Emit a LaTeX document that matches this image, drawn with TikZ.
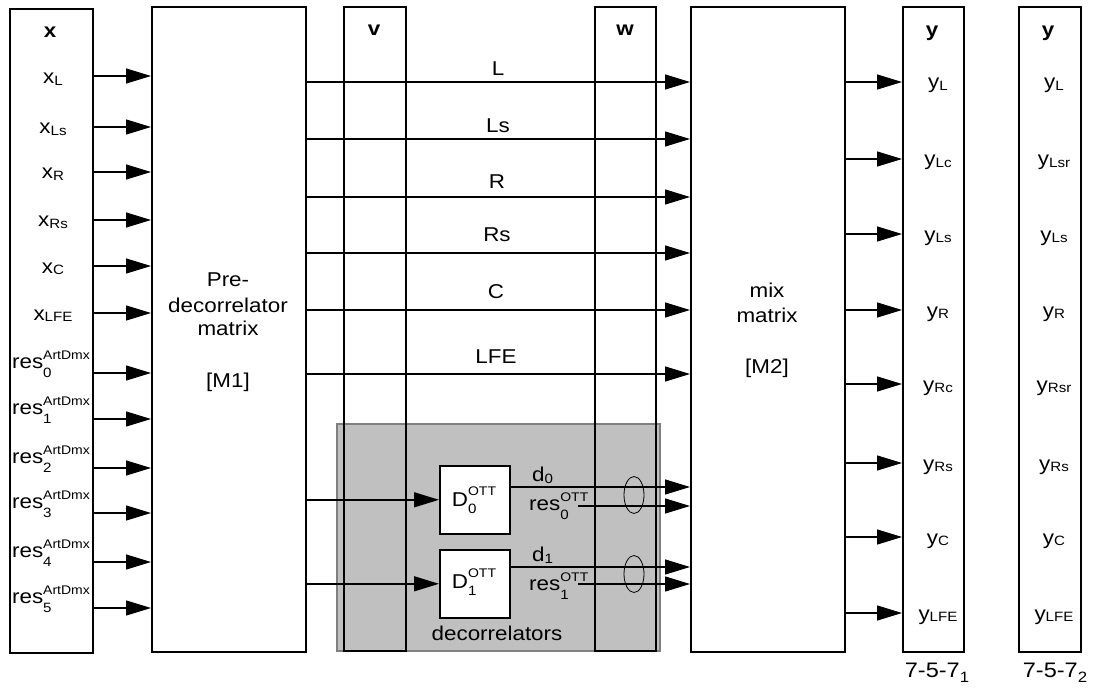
\documentclass[tikz,border=0pt]{standalone}
\usepackage{fontspec}
\setmainfont[FakeStretch=1.12]{Liberation Sans}
\usetikzlibrary{arrows.meta,shapes.geometric}
\definecolor{grayfill}{HTML}{C0C0C0}
\definecolor{grayline}{HTML}{808080}
\newcommand\fmain{\fontsize{20}{24}\selectfont}
\newcommand\fsmall{\fontsize{13.5}{14}\selectfont}
\newcommand\fsup{\fontsize{12.5}{13}\selectfont}
\newcommand\ssub[1]{\raisebox{-1.5pt}{\fsmall #1}}
\newcommand\dsub[1]{\raisebox{-2pt}{\fsmall #1}}
\newcommand\supsub[2]{\rlap{\raisebox{-9pt}{\fsmall #2}}\raisebox{9pt}{\fsup #1}}
\newcommand\Dsupsub[2]{\rlap{\raisebox{-7pt}{\fsmall #2}}\raisebox{11pt}{\fsup #1}}
\begin{document}
\begin{tikzpicture}[x=1pt,y=-1pt,
  box/.style={draw, line width=1.6pt, inner sep=0pt, anchor=north west},
  arr/.style={line width=1.4pt, -{Triangle[length=25pt,width=15pt]}},
  lab/.style={inner sep=0pt, anchor=base, font=\fmain},
  labw/.style={inner sep=0pt, anchor=base west, font=\fmain},
  hdr/.style={inner sep=0pt, anchor=base, font=\fmain\bfseries},
]
\useasboundingbox (0,0) rectangle (1095,695);
\fill[white] (0,0) rectangle (1095,695);

% decorrelator background
\node[draw=grayline, fill=grayfill, line width=1.5pt, inner sep=0pt, anchor=north west,
      minimum width=323, minimum height=227] (dec) at (336,423) {};

% boxes
\node[box, minimum width=83, minimum height=644] (xb) at (9,8) {};
\node[box, minimum width=154, minimum height=645] (pre) at (151,6) {};
\node[box, minimum width=62, minimum height=644] (vb) at (343,6) {};
\node[box, minimum width=61, minimum height=644] (wb) at (594,6) {};
\node[box, minimum width=154, minimum height=645] (mix) at (690,6) {};
\node[box, minimum width=61, minimum height=645] (y1) at (902,6) {};
\node[box, minimum width=62, minimum height=645] (y2) at (1018,6) {};
\node[box, fill=white, minimum width=70, minimum height=68] (D0) at (439,465) {};
\node[box, fill=white, minimum width=70, minimum height=68] (D1) at (439,549) {};

% ellipses
\node[draw, ellipse, line width=0.8pt, minimum width=20, minimum height=37, inner sep=0pt] (e0) at (634,495) {};
\node[draw, ellipse, line width=0.8pt, minimum width=20, minimum height=37, inner sep=0pt] (e1) at (634,574) {};

% input arrows
\foreach \yy in {76,127,172,220,266,313,373,419,468,513,562,608}
  \draw[arr] (xb.east |- 0,\yy) -- (pre.west |- 0,\yy);
% middle arrows
\foreach \yy in {82,139,197,253,310,374}
  \draw[arr] (pre.east |- 0,\yy) -- (mix.west |- 0,\yy);
% output arrows
\foreach \yy in {82,159,234,310,384,463,537,613}
  \draw[arr] (mix.east |- 0,\yy) -- (y1.west |- 0,\yy);
% decorrelator arrows
\draw[arr] (pre.east |- D0.west) -- (D0.west);
\draw[arr] (pre.east |- D1.west) -- (D1.west);
\draw[arr] (D0.east |- 0,487) -- (mix.west |- 0,487);
\draw[arr] (D1.east |- 0,567) -- (mix.west |- 0,567);
\coordinate (r0) at (578,506);
\coordinate (r1) at (578,584);
\draw[arr] (r0) -- (mix.west |- r0);
\draw[arr] (r1) -- (mix.west |- r1);

% headers
\node[hdr] (hx) at (50,38) {x};
\node[hdr] (hv) at (374,36) {v};
\node[hdr] (hw) at (625,36) {w};
\node[hdr] (hy1) at (932,37) {y};
\node[hdr] (hy2) at (1048,37) {y};

% x labels
\node[lab] (xL) at (53,84) {x\ssub{L}};
\node[lab] (xLs) at (53,134) {x\ssub{Ls}};
\node[lab] (xR) at (53,179) {x\ssub{R}};
\node[lab] (xRs) at (53,227) {x\ssub{Rs}};
\node[lab] (xC) at (53,273) {x\ssub{C}};
\node[lab] (xLFE) at (53,320) {x\ssub{LFE}};
\node[lab] (r0l) at (51,368) {res\supsub{ArtDmx}{0}};
\node[lab] (r1l) at (51,414) {res\supsub{ArtDmx}{1}};
\node[lab] (r2l) at (51,463) {res\supsub{ArtDmx}{2}};
\node[lab] (r3l) at (51,508) {res\supsub{ArtDmx}{3}};
\node[lab] (r4l) at (51,557) {res\supsub{ArtDmx}{4}};
\node[lab] (r5l) at (51,603) {res\supsub{ArtDmx}{5}};

% pre-decorrelator text
\node[lab] (p1) at (228,287) {Pre-};
\node[lab] (p2) at (228,312) {decorrelator};
\node[lab] (p3) at (228,335) {matrix};
\node[lab] (p4) at (228,387) {[M1]};

% middle labels
\node[lab] (mL) at (498,76) {L};
\node[lab] (mLs) at (498,133) {Ls};
\node[lab] (mR) at (497,189) {R};
\node[lab] (mRs) at (497,242) {Rs};
\node[lab] (mC) at (496,298) {C};
\node[lab] (mLFE) at (496,363) {LFE};

% decorrelator labels
\node[lab] (D0l) at (474,506) {D\Dsupsub{OTT}{0}};
\node[lab] (D1l) at (474,588) {D\Dsupsub{OTT}{1}};
\node[labw] (d0l) at (532,481) {d\dsub{0}};
\node[labw] (d1l) at (532,561) {d\dsub{1}};
\node[labw] (res0l) at (529,510) {res\supsub{OTT}{0}};
\node[labw] (res1l) at (529,590) {res\supsub{OTT}{1}};
\node[lab] (decl) at (497,640) {decorrelators};

% mix text
\node[lab] (m1) at (767,297) {mix};
\node[lab] (m2) at (767,322) {matrix};
\node[lab] (m3) at (767,373) {[M2]};

% y labels
\foreach \yy/\aa/\bb [count=\i] in {89/L/L,166/Lc/Lsr,241/Ls/Ls,317/R/R,391/Rc/Rsr,470/Rs/Rs,544/C/C,620/LFE/LFE}{
  \node[lab] (ya\i) at (938,\yy) {y\ssub{\aa}};
  \node[lab] (yb\i) at (1054,\yy) {y\ssub{\bb}};
}

% bottom labels
\node[lab, font=\fontsize{21}{24}\selectfont] (c1) at (937,677) {7-5-7\raisebox{-5pt}{\fontsize{15}{15}\selectfont 1}};
\node[lab, font=\fontsize{21}{24}\selectfont] (c2) at (1055,677) {7-5-7\raisebox{-5pt}{\fontsize{15}{15}\selectfont 2}};
\end{tikzpicture}
\end{document}
